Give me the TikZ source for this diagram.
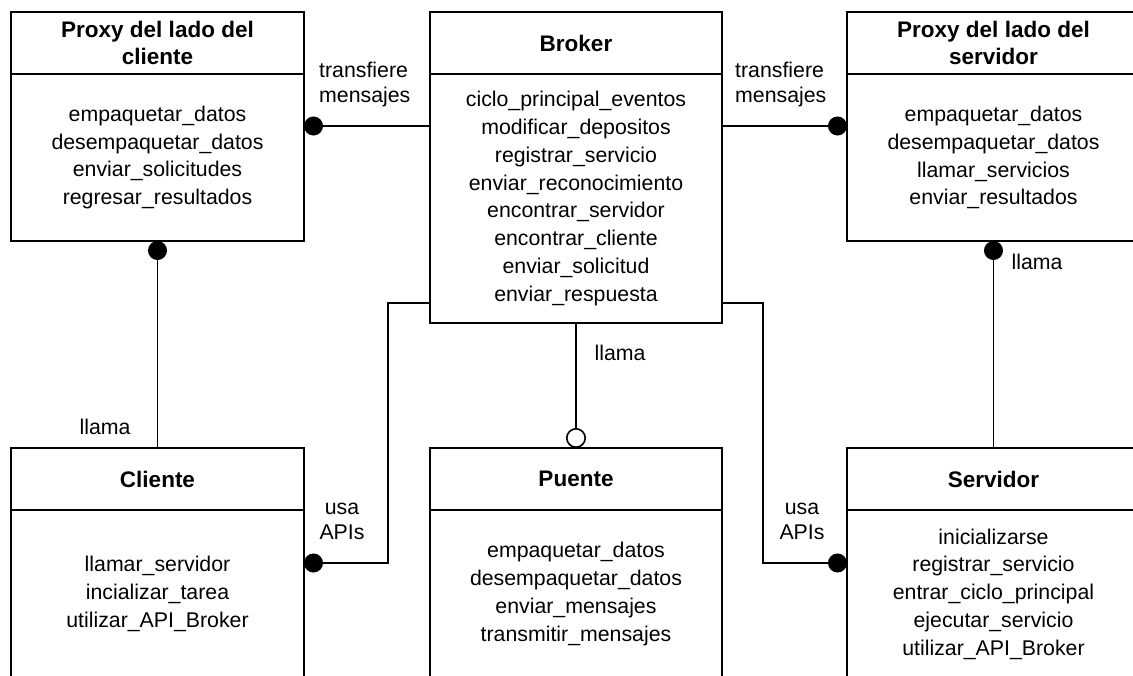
\documentclass[tikz,border=0pt]{standalone}
\usepackage{fontspec}
\setmainfont{Liberation Sans}
\usetikzlibrary{arrows.meta}
\begin{document}
\begin{tikzpicture}[x=1pt,y=-1pt,
  box/.style={draw, line width=1.6pt, inner sep=0pt, outer sep=0pt, align=center},
  head/.style={box, minimum width=#1, minimum height=62pt,
    font=\bfseries\fontsize{22.5}{27}\selectfont},
  body/.style={box, minimum width=#1, font=\fontsize{21.3}{27.8}\selectfont},
  link/.style={line width=1.6pt},
  lbl/.style={inner sep=0pt, align=center, font=\fontsize{21.3}{25}\selectfont},
  dot/.style={{Circle[length=19pt]}-},
  todot/.style={-{Circle[length=19pt]}},
  ring/.style={-{Circle[open, length=20pt, line width=1.6pt]}}]
\useasboundingbox (0,0) rectangle (1133,675);
\fill[white] (0,0) rectangle (1133,675);
\clip (0,0) rectangle (1133,675);

% upper row
\node[head=293pt] (pch) at (157.5,43) {Proxy del lado del\\cliente};
\node[body=293pt, minimum height=167pt] (pcb) at (157.5,157.5)
  {empaquetar\_datos\\desempaquetar\_datos\\enviar\_solicitudes\\regresar\_resultados};
\node[head=292pt] (brh) at (576,43) {Broker};
\node[body=292pt, minimum height=249pt] (brb) at (576,198.5)
  {ciclo\_principal\_eventos\\modificar\_depositos\\registrar\_servicio\\enviar\_reconocimiento\\encontrar\_servidor\\encontrar\_cliente\\enviar\_solicitud\\enviar\_respuesta};
\node[head=293pt] (psh) at (993.5,43) {Proxy del lado del\\servidor};
\node[body=293pt, minimum height=167pt] (psb) at (993.5,157.5)
  {empaquetar\_datos\\desempaquetar\_datos\\llamar\_servicios\\enviar\_resultados};

% lower row
\node[head=293pt] (clh) at (157.5,479) {Cliente};
\node[body=293pt, minimum height=168pt] (clb) at (157.5,594)
  {llamar\_servidor\\incializar\_tarea\\utilizar\_API\_Broker};
\node[head=292pt] (puh) at (576,479) {Puente};
\node[body=292pt, minimum height=168pt] (pub) at (576,594)
  {empaquetar\_datos\\desempaquetar\_datos\\enviar\_mensajes\\transmitir\_mensajes};
\node[head=293pt] (svh) at (993.5,479) {Servidor};
\node[body=293pt, minimum height=168pt] (svb) at (993.5,594)
  {inicializarse\\registrar\_servicio\\entrar\_ciclo\_principal\\ejecutar\_servicio\\utilizar\_API\_Broker};

% connectors
\draw[link, dot] ([yshift=-52pt]pcb.north east) -- ([yshift=-52pt]brb.north west);
\draw[link, todot] ([yshift=-52pt]brb.north east) -- ([yshift=-52pt]psb.north west);
\draw[link, dot] (pcb.south) -- (clh.north);
\draw[link, dot] (psb.south) -- (svh.north);
\draw[link, ring] (brb.south) -- (puh.north);
\draw[link, todot] ([yshift=20pt]brb.south west) -- ++(-42,0) |- ([yshift=-53pt]clb.north east);
\draw[link, todot] ([yshift=20pt]brb.south east) -- ++(41,0) |- ([yshift=-53pt]svb.north west);

% labels
\node[lbl, anchor=west, align=left] (t1) at (319,84.5) {transfiere\\mensajes};
\node[lbl, anchor=west, align=left] (t2) at (735,84.5) {transfiere\\mensajes};
\node[lbl] (u1) at (342,521) {usa\\APIs};
\node[lbl] (u2) at (802,521) {usa\\APIs};
\node[lbl] (l1) at (105,427) {llama};
\node[lbl] (l2) at (620,353) {llama};
\node[lbl] (l3) at (1037,262) {llama};
\end{tikzpicture}
\end{document}
